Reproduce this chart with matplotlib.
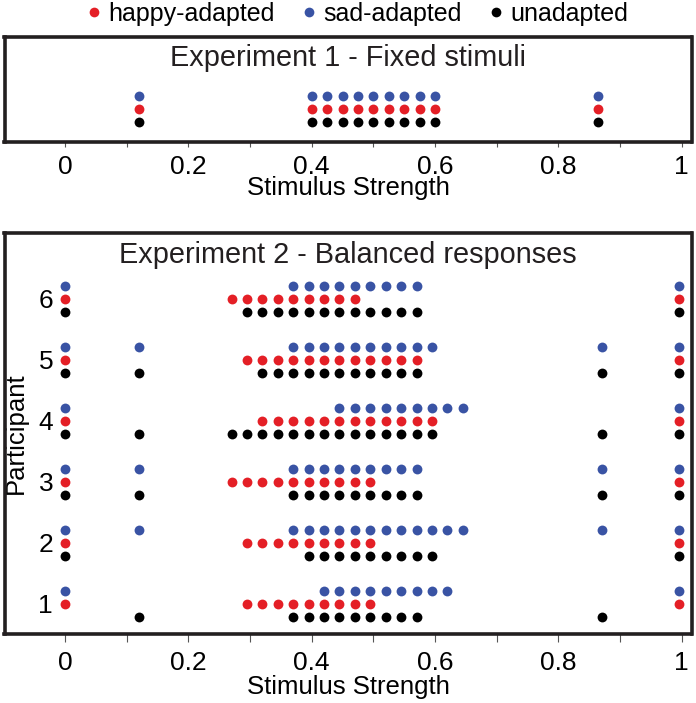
import matplotlib
matplotlib.use("Agg")
import matplotlib.pyplot as plt
from matplotlib.ticker import MultipleLocator, FormatStrFormatter
from matplotlib.lines import Line2D

plt.rcParams['font.family'] = ['Liberation Sans', 'DejaVu Sans']

# ---------------- data ----------------
conditions = ["happy-adapted", "sad-adapted", "unadapted"]
cond_colors = ["#e41f26", "#3953a4", "#000000"]
cond_offsets = [0.0, 0.215, -0.215]

# Experiment 1 (same stimuli for all conditions)
exp1_happy = [0.12, 0.4, 0.425, 0.45, 0.475, 0.5, 0.525, 0.55, 0.575, 0.6, 0.865]
exp1_sad = [0.12, 0.4, 0.425, 0.45, 0.475, 0.5, 0.525, 0.55, 0.575, 0.6, 0.865]
exp1_unadapted = [0.12, 0.4, 0.425, 0.45, 0.475, 0.5, 0.525, 0.55, 0.575, 0.6, 0.865]

# Experiment 2 (per participant)
participants = [1, 2, 3, 4, 5, 6]

p1_happy = [0, 0.295, 0.32, 0.345, 0.37, 0.395, 0.42, 0.445, 0.47, 0.495, 0.995]
p1_sad = [0, 0.42, 0.445, 0.47, 0.495, 0.52, 0.545, 0.57, 0.595, 0.62, 0.995]
p1_unadapted = [0.12, 0.37, 0.395, 0.42, 0.445, 0.47, 0.495, 0.52, 0.545, 0.57, 0.87]

p2_happy = [0, 0.295, 0.32, 0.345, 0.37, 0.395, 0.42, 0.445, 0.47, 0.495, 0.995]
p2_sad = [0, 0.12, 0.37, 0.395, 0.42, 0.445, 0.47, 0.495, 0.52, 0.545, 0.57, 0.595,
          0.62, 0.645, 0.87, 0.995]
p2_unadapted = [0, 0.395, 0.42, 0.445, 0.47, 0.495, 0.52, 0.545, 0.57, 0.595, 0.995]

p3_happy = [0, 0.27, 0.295, 0.32, 0.345, 0.37, 0.395, 0.42, 0.445, 0.47, 0.495, 0.995]
p3_sad = [0, 0.12, 0.37, 0.395, 0.42, 0.445, 0.47, 0.495, 0.52, 0.545, 0.57, 0.87, 0.995]
p3_unadapted = [0, 0.12, 0.37, 0.395, 0.42, 0.445, 0.47, 0.495, 0.52, 0.545, 0.57, 0.87, 0.995]

p4_happy = [0, 0.32, 0.345, 0.37, 0.395, 0.42, 0.445, 0.47, 0.495, 0.52, 0.545, 0.57,
            0.595, 0.995]
p4_sad = [0, 0.445, 0.47, 0.495, 0.52, 0.545, 0.57, 0.595, 0.62, 0.645, 0.995]
p4_unadapted = [0, 0.12, 0.27, 0.295, 0.32, 0.345, 0.37, 0.395, 0.42, 0.445, 0.47, 0.495,
                0.52, 0.545, 0.57, 0.595, 0.87, 0.995]

p5_happy = [0, 0.295, 0.32, 0.345, 0.37, 0.395, 0.42, 0.445, 0.47, 0.495, 0.52, 0.545,
            0.57, 0.995]
p5_sad = [0, 0.12, 0.37, 0.395, 0.42, 0.445, 0.47, 0.495, 0.52, 0.545, 0.57, 0.595,
          0.87, 0.995]
p5_unadapted = [0, 0.12, 0.32, 0.345, 0.37, 0.395, 0.42, 0.445, 0.47, 0.495, 0.52, 0.545,
                0.57, 0.87, 0.995]

p6_happy = [0, 0.27, 0.295, 0.32, 0.345, 0.37, 0.395, 0.42, 0.445, 0.47, 0.995]
p6_sad = [0, 0.37, 0.395, 0.42, 0.445, 0.47, 0.495, 0.52, 0.545, 0.57, 0.995]
p6_unadapted = [0, 0.295, 0.32, 0.345, 0.37, 0.395, 0.42, 0.445, 0.47, 0.495, 0.52, 0.545,
                0.57, 0.995]

exp2 = {
    1: [p1_happy, p1_sad, p1_unadapted],
    2: [p2_happy, p2_sad, p2_unadapted],
    3: [p3_happy, p3_sad, p3_unadapted],
    4: [p4_happy, p4_sad, p4_unadapted],
    5: [p5_happy, p5_sad, p5_unadapted],
    6: [p6_happy, p6_sad, p6_unadapted],
}

xtick_major = 0.2
xtick_minor = 0.1

# ---------------- figure ----------------
W, H = 696, 703
fig = plt.figure(figsize=(W / 100, H / 100), dpi=100)

def px_axes(left, top, right, bottom):
    return fig.add_axes([left / W, 1 - bottom / H, (right - left) / W, (bottom - top) / H])

ax1 = px_axes(4.5, 37, 691.5, 142)
ax2 = px_axes(4.5, 233, 691.5, 634)

MS = 50
spine_color = "#231f20"

def style(ax, ticklen, tickpad, labelpad):
    for s in ax.spines.values():
        s.set_linewidth(2.6)
        s.set_color(spine_color)
    ax.set_xlim(-0.0981, 1.0159)
    ax.xaxis.set_major_locator(MultipleLocator(xtick_major))
    ax.xaxis.set_minor_locator(MultipleLocator(xtick_minor))
    ax.xaxis.set_major_formatter(FormatStrFormatter('%g'))
    ax.tick_params(axis='x', which='both', direction='out', length=ticklen, width=0.8,
                   color='#555555', labelsize=19, pad=tickpad)
    ax.set_xlabel("Stimulus Strength", fontsize=18.5, labelpad=labelpad)

# Experiment 1
style(ax1, 3.5, 5.5, -1.5)
for vals, col, off in zip([exp1_happy, exp1_sad, exp1_unadapted], cond_colors, cond_offsets):
    ax1.scatter(vals, [0 + off] * len(vals), s=MS, color=col, linewidths=0, zorder=3)
ax1.set_ylim(-0.541, 1.18)
ax1.set_yticks([])
ax1.text(0.5, 0.80, "Experiment 1 - Fixed stimuli", transform=ax1.transAxes,
         ha='center', va='center', fontsize=20.8, color='#231f20')

# Experiment 2
style(ax2, 5.5, 7, 0)
for p in participants:
    for vals, col, off in zip(exp2[p], cond_colors, cond_offsets):
        ax2.scatter(vals, [p + off] * len(vals), s=MS, color=col, linewidths=0, zorder=3)
ax2.set_ylim(0.508, 7.082)
ax2.set_yticks(participants)
ax2.set_yticklabels([str(p) for p in participants])
ax2.tick_params(axis='y', length=0, pad=-35, labelsize=19)
ax2.set_ylabel("Participant", fontsize=18.5)
ax2.yaxis.label.set_va('center')
ax2.yaxis.set_label_coords(0.0165, 0.5)
ax2.text(0.5, 0.945, "Experiment 2 - Balanced responses", transform=ax2.transAxes,
         ha='center', va='center', fontsize=20.8, color='#231f20')

# Legend
handles = [Line2D([], [], marker='o', linestyle='none', markersize=7,
                  markerfacecolor=c, markeredgewidth=0) for c in cond_colors]
fig.legend(handles, conditions, loc='center', bbox_to_anchor=(358 / W, 1 - 14 / H),
           ncol=3, frameon=False, fontsize=18, handlelength=0.5, handletextpad=0.35,
           columnspacing=1.1, borderpad=0)

fig.savefig("out.png", dpi=100)
